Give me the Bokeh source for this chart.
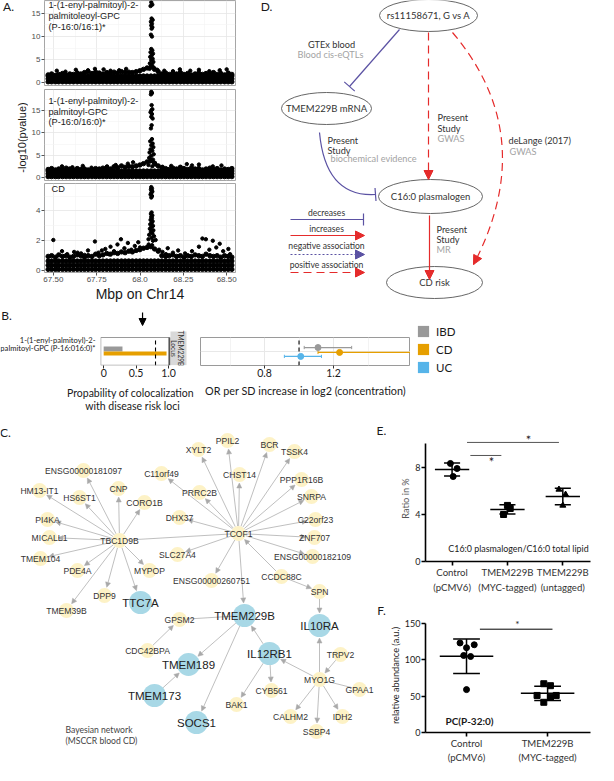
import math
import statistics
from bokeh.plotting import figure
from bokeh.layouts import column, row
from bokeh.models import (Label, Arrow, NormalHead, TeeHead, FixedTicker, Range1d, LinearAxis,
                          ColumnDataSource, Legend, LegendItem)
from bokeh.core.properties import value
from bokeh.embed import file_html
from bokeh.resources import INLINE

SANS = "Liberation Sans"
HUM = "Lato"
INK = "#1a1a1a"

# ===================== DATA =====================
# ---- A. regional association, chr14 ----
A_strip_lines = [["1-(1-enyl-palmitoyl)-2-", "palmitoleoyl-GPC", " (P-16:0/16:1)*"],
                 ["1-(1-enyl-palmitoyl)-2-", "palmitoyl-GPC", "(P-16:0/16:0)*"],
                 ["CD"]]
A_xticks = [67.50, 67.75, 68.00, 68.25, 68.50]
A_xtick_labels = ["67.50", "67.75", "68.0", "68.25", "68.50"]
A_xminor = [67.625, 67.875, 68.125, 68.375]
A_yticks = [[0, 5, 10, 15], [0, 5, 10, 15], [0, 2, 4]]
A_yminor = [[2.5, 7.5, 12.5, 17.5], [2.5, 7.5, 12.5, 17.5], [1, 3, 5]]
A_snp_x = [67.470, 67.490, 67.512, 67.531, 67.553, 67.574, 67.595, 67.616, 67.638, 67.659,
           67.680, 67.701, 67.723, 67.744, 67.765, 67.786, 67.808, 67.829, 67.850, 67.871,
           67.893, 67.914, 67.935, 67.956, 67.978, 67.999, 68.020, 68.041, 68.063, 68.084,
           68.105, 68.126, 68.148, 68.169, 68.190, 68.211, 68.233, 68.254, 68.275, 68.296,
           68.318, 68.339, 68.360, 68.381, 68.403, 68.424, 68.445, 68.466, 68.488, 68.509, 68.530]
A_band_rows = [[0.2, 0.85, 1.45], [0.2, 0.85, 1.45], [0.08, 0.36, 0.64]]
A_band_top = [
    [1.7, 1.9, 1.6, 1.8, 2.0, 1.7, 1.9, 1.8, 2.1, 1.9, 2.2, 2.4, 2.0, 2.3, 2.1, 1.9, 2.2, 2.0, 2.3, 2.1,
     2.4, 2.2, 2.3, 2.2, 2.4, 2.6, 2.9, 3.2, 3.4, 2.9, 2.4, 1.9, 2.1, 1.8, 2.0, 1.9, 2.2, 1.8, 2.0, 1.7,
     1.9, 2.1, 1.8, 2.0, 1.9, 2.2, 1.8, 2.0, 1.7, 2.1, 1.8],
    [1.8, 2.0, 1.7, 1.9, 1.8, 2.1, 1.9, 1.7, 2.0, 1.8, 1.9, 1.7, 1.8, 2.0, 1.9, 2.1, 2.2, 1.9, 2.4, 2.2,
     2.6, 2.3, 2.5, 2.4, 2.6, 2.8, 3.1, 3.5, 3.8, 3.2, 2.6, 2.2, 2.0, 1.8, 2.1, 1.9, 2.3, 2.0, 1.8, 2.1,
     1.9, 2.0, 1.7, 1.9, 2.1, 1.8, 2.0, 1.7, 1.9, 1.8, 2.0],
    [0.95, 1.00, 0.90, 1.05, 0.95, 1.00, 0.90, 0.95, 1.05, 1.00, 0.90, 1.00, 0.95, 1.10, 1.00, 1.05, 1.15,
     1.10, 1.20, 1.15, 1.25, 1.20, 1.30, 1.25, 1.35, 1.40, 1.50, 1.55, 1.60, 1.45, 1.30, 1.00, 0.95, 1.00,
     1.05, 0.95, 1.00, 0.90, 1.00, 0.95, 1.05, 1.00, 0.95, 1.10, 1.00, 0.95, 1.00, 0.90, 1.00, 0.95, 0.90]]
A_out_x = [
    [67.52, 67.57, 67.63, 67.70, 67.74, 67.79, 67.83, 67.88, 67.92, 68.10, 68.14, 68.19, 68.23, 68.29,
     68.34, 68.40, 68.46, 68.50],
    [67.55, 67.61, 67.67, 67.72, 67.81, 67.86, 67.93, 67.96, 68.09, 68.13, 68.18, 68.27, 68.30, 68.34,
     68.42, 68.47],
    [67.50, 67.55, 67.58, 67.62, 67.66, 67.68, 67.70, 67.74, 67.76, 67.80, 67.82, 67.83, 67.85, 67.87,
     67.89, 67.91, 67.93, 67.95, 67.97, 67.99, 68.00, 68.07, 68.09, 68.11, 68.13, 68.15, 68.16, 68.19,
     68.22, 68.26, 68.30, 68.34, 68.36, 68.38, 68.40, 68.42, 68.44, 68.46, 68.48, 68.51, 68.52, 67.64,
     67.78, 68.05]]
A_out_y = [
    [2.6, 2.4, 2.8, 2.7, 3.0, 2.9, 2.6, 2.7, 3.0, 2.8, 2.6, 2.5, 2.9, 2.6, 2.8, 2.5, 2.7, 2.9],
    [2.5, 2.3, 2.6, 2.2, 2.5, 2.8, 3.1, 3.4, 2.9, 2.4, 2.6, 3.0, 2.7, 2.9, 2.5, 2.7],
    [2.05, 1.30, 1.10, 1.25, 1.15, 1.05, 1.35, 1.95, 1.20, 1.45, 1.10, 1.60, 1.30, 1.75, 2.10, 1.50,
     1.85, 1.40, 1.65, 1.90, 1.55, 1.70, 2.05, 1.40, 1.25, 1.10, 1.50, 1.20, 1.35, 1.15, 1.30, 1.60,
     2.15, 2.10, 1.40, 2.00, 1.55, 1.80, 1.30, 1.45, 1.10, 1.20, 1.35, 1.75]]
A_peak_x = [
    [68.065, 68.071, 68.061, 68.067, 68.073, 68.063, 68.069, 68.065, 68.071, 68.067, 68.063, 68.069,
     68.065, 68.071, 68.061, 68.075, 68.067, 68.059, 68.073, 68.065, 68.077, 68.057, 68.069, 68.063,
     68.079, 68.055],
    [68.065, 68.069, 68.063, 68.067, 68.071, 68.065, 68.061, 68.069, 68.065, 68.073, 68.067, 68.063,
     68.069, 68.059, 68.073, 68.065, 68.077, 68.061, 68.071, 68.055, 68.079, 68.065, 68.053, 68.075,
     68.059, 68.083, 68.049, 68.071],
    [68.065, 68.069, 68.063, 68.067, 68.071, 68.065, 68.061, 68.069, 68.065, 68.067, 68.063, 68.071,
     68.065, 68.069, 68.061, 68.073, 68.067, 68.059, 68.075, 68.065, 68.057, 68.077, 68.063, 68.071,
     68.053, 68.081, 68.067, 68.049, 68.075]]
A_peak_y = [
    [17.4, 16.9, 16.6, 13.9, 13.6, 13.2, 12.8, 12.4, 12.0, 11.7, 10.4, 10.0, 7.3, 7.0, 6.6, 6.3, 5.9,
     5.6, 5.2, 4.9, 4.5, 4.2, 3.9, 3.6, 3.3, 3.0],
    [19.2, 18.9, 18.6, 16.2, 15.3, 15.0, 14.6, 14.2, 13.6, 13.2, 11.7, 11.0, 8.6, 8.1, 7.6, 7.2, 6.8,
     6.3, 6.0, 5.6, 5.2, 4.8, 4.4, 4.0, 3.6, 3.2, 2.8, 2.5],
    [5.6, 5.5, 5.45, 5.35, 5.3, 5.2, 5.1, 5.0, 4.9, 3.9, 3.8, 3.7, 3.6, 3.5, 3.4, 3.3, 3.2, 3.1, 3.0,
     2.9, 2.8, 2.7, 2.6, 2.5, 2.4, 2.3, 2.2, 2.1, 2.0]]

# ---- B. colocalization and MR ----
B_series = ["IBD", "CD", "UC"]
B_colors = ["#999999", "#E69F00", "#56B4E9"]
B_trait = ["1-(1-enyl-palmitoyl)-2-", "palmitoyl-GPC (P-16:016:0)*"]
B_locus = ["TMEM229B", "Locus"]
B_coloc_series = ["IBD", "CD"]
B_coloc_prob = [0.29, 0.97]
B_coloc_pos = [1.11, 0.91]
B_coloc_thr = 0.8
B_or = [1.11, 1.235, 1.01]
B_or_lo = [1.03, 1.11, 0.915]
B_or_hi = [1.305, 1.645, 1.13]
B_or_pos = [1.17, 0.96, 0.79]
B_or_null = 1.0

# ---- C. Bayesian network ----
C_names = ["XYLT2", "PPIL2", "BCR", "TSSK4", "ENSG00000181097", "C11orf49", "CHST14", "PPP1R16B",
           "HM13-IT1", "CNP", "HS6ST1", "CORO1B", "PRRC2B", "SNRPA", "PI4KA", "DHX37", "C22orf23",
           "MICALL1", "TBC1D9B", "TCOF1", "ZNF707", "TMEM104", "SLC27A4", "ENSG00000182109", "PDE4A",
           "MYPOP", "ENSG00000260751", "CCDC88C", "DPP9", "SPN", "TTC7A", "TMEM39B", "GPSM2", "TMEM229B",
           "IL10RA", "CDC42BPA", "IL12RB1", "TRPV2", "TMEM189", "MYO1G", "GPAA1", "CYB561", "TMEM173",
           "BAK1", "CALHM2", "IDH2", "SOCS1", "SSBP4"]
C_blue = ["TTC7A", "TMEM229B", "IL10RA", "IL12RB1", "TMEM189", "TMEM173", "SOCS1"]
C_arrows = [("TBC1D9B", "HM13-IT1"), ("TBC1D9B", "ENSG00000181097"), ("TBC1D9B", "HS6ST1"),
            ("TBC1D9B", "CNP"), ("TBC1D9B", "CORO1B"), ("TBC1D9B", "PI4KA"), ("TBC1D9B", "MICALL1"),
            ("TBC1D9B", "TMEM104"), ("TBC1D9B", "PDE4A"), ("TBC1D9B", "TMEM39B"), ("TBC1D9B", "DPP9"),
            ("TBC1D9B", "TTC7A"), ("TBC1D9B", "MYPOP"),
            ("TCOF1", "XYLT2"), ("TCOF1", "PPIL2"), ("TCOF1", "BCR"), ("TCOF1", "TSSK4"),
            ("TCOF1", "C11orf49"), ("TCOF1", "CHST14"), ("TCOF1", "PPP1R16B"), ("TCOF1", "PRRC2B"),
            ("TCOF1", "SNRPA"), ("TCOF1", "DHX37"), ("TCOF1", "C22orf23"), ("TCOF1", "ZNF707"),
            ("TCOF1", "ENSG00000182109"), ("TCOF1", "SLC27A4"), ("TCOF1", "ENSG00000260751"),
            ("TCOF1", "TMEM229B"), ("CCDC88C", "TCOF1"), ("CCDC88C", "SPN"), ("SPN", "IL10RA"),
            ("CDC42BPA", "GPSM2"), ("TMEM229B", "TMEM189"), ("TMEM229B", "SOCS1"),
            ("IL12RB1", "TMEM229B"), ("TMEM173", "TMEM189"), ("IL12RB1", "CYB561"), ("IL12RB1", "BAK1"),
            ("MYO1G", "IL12RB1"), ("MYO1G", "IL10RA"), ("TRPV2", "MYO1G"), ("MYO1G", "CALHM2"),
            ("MYO1G", "SSBP4"), ("MYO1G", "IDH2")]
C_links = [("TCOF1", "TBC1D9B"), ("GPSM2", "TMEM229B"), ("MYO1G", "GPAA1")]

# ---- D. causal diagram ----
D_nodes = ["rs11158671, G vs A", "TMEM229B mRNA", "C16:0 plasmalogen", "CD risk"]
D_legend = ["decreases", "increases", "negative association", "positive association"]

# ---- E. C16:0 plasmalogen ratio ----
E_line1 = ["Control", "TMEM229B", "TMEM229B"]
E_line2 = ["(pCMV6)", "(MYC-tagged)", "(untagged)"]
E_values = [[8.34, 7.91, 7.23], [4.77, 4.51, 4.00], [6.13, 5.70, 4.77]]
E_jitter = [[-0.03, 0.09, 0.02], [0.0, 0.05, -0.07], [-0.07, 0.05, 0.0]]
E_markers = ["circle", "square", "triangle"]
E_yticks = [0, 4, 8]

# ---- F. PC(P-32:0) abundance ----
F_line1 = ["Control", "TMEM229B"]
F_line2 = ["(pCMV6)", "(MYC-tagged)"]
F_values = [[123.0, 116.5, 120.5, 105.8, 104.4, 58.9], [67.0, 64.3, 50.9, 50.9, 48.2, 41.5]]
F_jitter = [[-0.08, 0.0, 0.095, -0.035, 0.05, 0.0], [-0.047, 0.035, -0.13, 0.106, 0.035, -0.047]]
F_markers = ["circle", "square"]
F_yticks = [0, 50, 100, 150]


# ===================== HELPERS =====================
def base_fig(**kw):
    p = figure(output_backend="svg", toolbar_location=None, **kw)
    p.background_fill_color = "white"
    p.border_fill_color = "white"
    return p


def lab(p, fr, X, Y, text, size="9px", color=INK, font=HUM, align="left",
        baseline="middle", angle=0.0, style="normal"):
    # label inside the plot frame, given in page pixels
    fl, ft, frr, fb = fr
    p.add_layout(Label(x=X - fl, y=fb - Y, x_units="screen", y_units="screen", text=text,
                       text_font=font, text_font_size=size, text_color=color, text_align=align,
                       text_baseline=baseline, angle=angle, text_font_style=style))


def textfig(x0, x1, y0, y1):
    p = base_fig(width=x1 - x0, height=y1 - y0, x_range=Range1d(x0, x1), y_range=Range1d(y1, y0),
                 x_axis_location=None, y_axis_location=None, min_border=0)
    p.grid.visible = False
    p.outline_line_color = None
    return p


def txt(p, X, Y, text, size="9px", color=INK, font=HUM, align="left", angle=0.0, style="normal"):
    p.text([X], [Y], text=[text], text_font=value(font), text_font_size=size, text_color=color,
           text_align=align, text_baseline="middle", angle=angle, text_font_style=style)


# ===================== PANEL A =====================
Atext = textfig(8, 36, 8, 312)
txt(Atext, 16, 14, "A.", size="12px", align="center")
txt(Atext, 29, 145, "-log10(pvalue)", size="11px", font=SANS, align="center", angle=math.pi / 2)

A_frames = [(49, 8, 243, 93), (49, 97, 243, 188), (49, 191, 243, 282)]
A_heights = [88, 95, 121]
A_tb = [(0, 3), (1, 3), (0, 30)]
A_yr = [(-0.6, 17.8), (-0.67, 19.7), (-0.13, 5.84)]
A_strip_y = [[12, 23, 34], [108, 119, 129.5], [198]]
A_strip_x = [[53, 53, 53], [53, 53, 53], [56]]
A_figs = []
for k in range(3):
    p = base_fig(width=210, height=A_heights[k], x_range=Range1d(67.449, 68.551),
                 y_range=Range1d(*A_yr[k]), x_axis_location=("below" if k == 2 else None),
                 min_border_left=13, min_border_right=3, min_border_top=A_tb[k][0],
                 min_border_bottom=A_tb[k][1])
    p.outline_line_color = "#a6a6a6"
    p.outline_line_width = 1
    p.xgrid.ticker = FixedTicker(ticks=A_xticks, minor_ticks=A_xminor)
    p.ygrid.ticker = FixedTicker(ticks=A_yticks[k], minor_ticks=A_yminor[k])
    for g in (p.xgrid, p.ygrid):
        g.grid_line_color = "#e6e6e6"
        g.grid_line_width = 0.8
        g.minor_grid_line_color = "#f3f3f3"
        g.minor_grid_line_width = 0.6
    p.yaxis.ticker = FixedTicker(ticks=A_yticks[k])
    p.yaxis.axis_line_color = None
    p.yaxis.major_tick_out = 3
    p.yaxis.major_tick_in = 0
    p.yaxis.major_tick_line_color = "#555555"
    p.yaxis.minor_tick_line_color = None
    p.yaxis.major_label_text_font = SANS
    p.yaxis.major_label_text_font_size = "8px"
    p.yaxis.major_label_text_color = "#4d4d4d"
    p.yaxis.major_label_standoff = 1
    if k == 2:
        p.xaxis.ticker = FixedTicker(ticks=A_xticks)
        p.xaxis.major_label_overrides = dict(zip(A_xticks, A_xtick_labels))
        p.xaxis.axis_line_color = None
        p.xaxis.major_tick_out = 3
        p.xaxis.major_tick_in = 0
        p.xaxis.major_tick_line_color = "#555555"
        p.xaxis.minor_tick_line_color = None
        p.xaxis.major_label_text_font = SANS
        p.xaxis.major_label_text_font_size = "8px"
        p.xaxis.major_label_text_color = "#4d4d4d"
        p.xaxis.major_label_standoff = 1
        p.xaxis.axis_label = "Mbp on Chr14"
        p.xaxis.axis_label_text_font = SANS
        p.xaxis.axis_label_text_font_size = "14px"
        p.xaxis.axis_label_text_font_style = "normal"
        p.xaxis.axis_label_text_color = INK
        p.xaxis.axis_label_standoff = 1
    rows = A_band_rows[k]
    bx = [x for r in rows for x in A_snp_x] + A_snp_x
    by = [r for r in rows for _ in A_snp_x] + A_band_top[k]
    p.scatter(bx, by, size=4.4, color="black")
    p.scatter(A_out_x[k], A_out_y[k], size=3.4, color="black")
    p.scatter(A_peak_x[k], A_peak_y[k], size=3.4, color="black")
    for t, xx, yy in zip(A_strip_lines[k], A_strip_x[k], A_strip_y[k]):
        lab(p, A_frames[k], xx, yy, t, size="9.2px", font=SANS)
    A_figs.append(p)

# ===================== PANEL D =====================
D = textfig(246, 606, 8, 312)
BLUE = "#5b52a3"
RED = "#e52b2b"
GRAY = "#a3a3a3"
D_x = [436, 334, 438, 442]
D_y = [23, 116, 204, 290]
D_w = [98, 90, 104, 96]
D_h = [32, 32, 34, 32]


def d_arrow(x0, y0, x1, y1, color, dash="solid", head="normal", hsize=8, body=True, lw=1.2):
    if head == "tee":
        h = TeeHead(size=hsize, line_color=color, line_width=lw)
    else:
        h = NormalHead(size=hsize, fill_color=color, line_color=color, line_width=1)
    D.add_layout(Arrow(x_start=x0, y_start=y0, x_end=x1, y_end=y1, end=h, line_color=color,
                       line_width=lw, line_dash=dash, line_alpha=(1.0 if body else 0.0)))


d_arrow(407, 37, 357, 94, BLUE, head="tee", hsize=14)
d_arrow(436, 40, 436, 187, RED, dash="8 5", hsize=9)
D.quadratic(x0=[460], y0=[40], x1=[481], y1=[272], cx=[548], cy=[144], line_color=RED,
            line_width=1.2, line_dash="8 5")
d_arrow(481 + 0.464 * 4, 272 - 0.886 * 4, 481, 272, RED, hsize=9, body=False)
D.quadratic(x0=[327], y0=[140], x1=[383], y1=[202], cx=[333], cy=[205], line_color=BLUE,
            line_width=1.2)
d_arrow(379, 202.3, 383, 202, BLUE, head="tee", hsize=13, body=False)
d_arrow(437, 223, 437, 287, RED, hsize=9)
d_arrow(298, 227, 371, 227, BLUE, head="tee", hsize=12)
d_arrow(298, 243, 372, 243, RED, hsize=9)
d_arrow(298, 262, 372, 262, BLUE, dash="2 2", hsize=9)
d_arrow(298, 280, 372, 280, RED, dash="8 5", hsize=9)
D.ellipse(D_x, D_y, width=D_w, height=D_h, fill_color="white", line_color="#555555", line_width=0.9)
D.text(D_x, D_y, text=D_nodes, text_align="center", text_baseline="middle",
       text_font=value(HUM), text_font_size="9.5px", text_color="#333333")
txt(D, 274, 14, "D.", size="12px", align="center")
for t, xx, yy, c, al in [("GTEx blood", 339, 52, "#333333", "center"),
                         ("Blood cis-eQTLs", 338, 62, GRAY, "center"),
                         ("Present", 445, 125, "#333333", "left"), ("Study", 445, 136, "#333333", "left"),
                         ("GWAS", 445, 146, GRAY, "left"),
                         ("deLange (2017)", 516, 148, "#333333", "left"), ("GWAS", 517, 159, GRAY, "left"),
                         ("Present", 335, 148, "#333333", "left"), ("Study", 335, 158, "#333333", "left"),
                         ("biochemical evidence", 338, 166, GRAY, "left"),
                         ("Present", 444, 237, "#333333", "left"), ("Study", 444, 247, "#333333", "left"),
                         ("MR", 444, 257, GRAY, "left")]:
    txt(D, xx, yy, t, size="9.2px", color=c, align=al)
for t, yy in zip(D_legend, [220, 236, 253, 272]):
    txt(D, 334, yy, t, size="8.6px", color="#333333", align="center")

# ===================== PANEL B =====================
Btext = textfig(8, 104, 312, 388)
txt(Btext, 14, 323, "B.", size="12px", align="center")
txt(Btext, 103, 355, B_trait[0], size="7.6px", align="right")
txt(Btext, 103, 365, B_trait[1], size="7.6px", align="right")

# left plot: frame x 108..196 (x=0 at 111.2, 64.8 px/unit), y 315..373 (data box 345..373 = 0.4..1.6)
Blp = base_fig(width=100, height=76, x_range=Range1d(-0.049, 1.309), y_range=Range1d(0.4, 2.886),
               y_axis_location=None, min_border_left=4, min_border_right=8, min_border_top=3,
               min_border_bottom=15)
Blp.outline_line_color = None
Blp.grid.visible = False
Blp.hbar(y=B_coloc_pos, left=0, right=B_coloc_prob, height=[0.21, 0.17],
         fill_color=[B_colors[B_series.index(s)] for s in B_coloc_series], line_color=None)
Blp.segment(x0=[B_coloc_thr], y0=[0.4], x1=[B_coloc_thr], y1=[1.6], line_color="black",
            line_dash="4 3", line_width=1.1)
Blp.quad(left=[-0.045], right=[1.015], bottom=[0.41], top=[1.6], fill_color=None,
         line_color="#9a9a9a", line_width=1)
Blp.segment(x0=[1.015], y0=[0.41], x1=[1.015], y1=[1.6], line_color="#555555", line_width=2)
Blp.quad(left=[1.031], right=[1.278], bottom=[0.41], top=[1.857], fill_color="#d9d9d9",
         line_color=None)
Blp.text([1.19, 1.09], [1.129, 1.129], text=B_locus, text_align="center", text_baseline="middle",
         angle=-math.pi / 2, text_font=value(HUM), text_font_size="6.6px", text_color="#333333")
Blp.add_layout(Arrow(x_start=0.6, y_start=2.67, x_end=0.6, y_end=2.114, line_color="black",
                     line_width=1.2, end=NormalHead(size=7, fill_color="black", line_color="black")))
Blp.xaxis.ticker = FixedTicker(ticks=[0, 0.5, 1.0])
Blp.xaxis.major_label_overrides = {0: "0", 0.5: "0.5", 1: "1.0"}
Blp.xaxis.axis_line_color = None
Blp.xaxis.major_tick_out = 3
Blp.xaxis.major_tick_in = 0
Blp.xaxis.major_tick_line_color = "#333333"
Blp.xaxis.minor_tick_line_color = None
Blp.xaxis.major_label_text_font = HUM
Blp.xaxis.major_label_text_font_size = "10.5px"
Blp.xaxis.major_label_text_color = INK
Blp.xaxis.major_label_standoff = 0

Btext2 = textfig(8, 204, 388, 425)
txt(Btext2, 138, 400, "Propability of colocalization", size="10.5px", align="center")
txt(Btext2, 140, 413, "with disease risk loci", size="10.5px", align="center")

# right plot: frame x 208..418, y 345..373
Br = base_fig(width=214, height=113, x_range=Range1d(0.429, 1.646), y_range=Range1d(0.4, 1.6),
              y_axis_location=None, min_border_left=4, min_border_right=0, min_border_top=33,
              min_border_bottom=52)
Br.outline_line_color = "#9a9a9a"
Br.xaxis.ticker = FixedTicker(ticks=[0.8, 1.2])
Br.xgrid.ticker = FixedTicker(ticks=[0.8, 1.2], minor_ticks=[0.6, 1.0, 1.4])
Br.ygrid.ticker = FixedTicker(ticks=[1.0])
for g in (Br.xgrid, Br.ygrid):
    g.grid_line_color = "#e8e8e8"
    g.minor_grid_line_color = "#f3f3f3"
Br.xaxis.axis_line_color = None
Br.xaxis.major_tick_out = 3
Br.xaxis.major_tick_in = 0
Br.xaxis.major_tick_line_color = "#333333"
Br.xaxis.minor_tick_line_color = None
Br.xaxis.major_label_text_font = HUM
Br.xaxis.major_label_text_font_size = "10.5px"
Br.xaxis.major_label_text_color = INK
Br.xaxis.major_label_standoff = 0
Br.xaxis.axis_label = "OR per SD increase in log2 (concentration)"
Br.xaxis.axis_label_text_font = HUM
Br.xaxis.axis_label_text_font_size = "10.8px"
Br.xaxis.axis_label_text_font_style = "normal"
Br.xaxis.axis_label_text_color = INK
Br.xaxis.axis_label_standoff = 4
Br.segment(x0=[B_or_null], y0=[0.4], x1=[B_or_null], y1=[1.6], line_color="black", line_dash="4 3",
           line_width=1.1)
Br.segment(x0=B_or_lo, y0=B_or_pos, x1=B_or_hi, y1=B_or_pos, line_color=B_colors, line_width=1.3)
Br.segment(x0=B_or_lo, y0=[v - 0.07 for v in B_or_pos], x1=B_or_lo, y1=[v + 0.07 for v in B_or_pos],
           line_color=B_colors, line_width=1)
Br.segment(x0=B_or_hi, y0=[v - 0.07 for v in B_or_pos], x1=B_or_hi, y1=[v + 0.07 for v in B_or_pos],
           line_color=B_colors, line_width=1)
Br.scatter(B_or, B_or_pos, size=6, color=B_colors)

# legend for B (its own canvas to the right of the forest plot)
Bpad = textfig(418, 606, 312, 326)
Bleg = textfig(418, 606, 326, 425)
items = []
for s, c in zip(B_series, B_colors):
    r = Bleg.quad(left=[math.nan], right=[math.nan], top=[math.nan], bottom=[math.nan],
                  fill_color=c, line_color=None)
    items.append(LegendItem(label=s, renderers=[r]))
leg = Legend(items=items, location="top_left", glyph_width=14, glyph_height=14, label_height=14,
             spacing=4, label_standoff=6, padding=0, margin=6, border_line_color=None,
             background_fill_alpha=0, label_text_font=HUM, label_text_font_size="11.5px",
             label_text_color=INK)
Bleg.add_layout(leg)

# ===================== PANEL C =====================
C = textfig(8, 384, 425, 773)
C_x = [206, 235, 277, 302, 91, 169, 247, 309,
       47, 126, 87, 152, 207, 319, 55, 187, 323,
       57, 127, 246, 322, 48, 185, 320, 85,
       157, 219, 289, 112, 327, 148, 74, 187, 252,
       327, 155, 277, 348, 196, 327, 367, 279, 162,
       244, 298, 350, 204, 324]
C_y = [457, 448, 452, 459, 478, 481, 482, 487,
       498, 496, 505, 510, 500, 504, 527, 525, 527,
       545, 548, 541, 545, 566, 562, 564, 578,
       578, 588, 584, 603, 599, 610, 618, 627, 623,
       633, 658, 661, 662, 672, 687, 697, 698, 703,
       712, 724, 724, 730, 739]
idx = {n: i for i, n in enumerate(C_names)}


def rad(n):
    return 11.5 if n in C_blue else 7.5


def seg(s, t, gap):
    x0, y0 = C_x[idx[s]], C_y[idx[s]]
    x1, y1 = C_x[idx[t]], C_y[idx[t]]
    d = math.hypot(x1 - x0, y1 - y0)
    ux, uy = (x1 - x0) / d, (y1 - y0) / d
    return x0 + ux * rad(s), y0 + uy * rad(s), x1 - ux * (rad(t) + gap), y1 - uy * (rad(t) + gap)


aw = [seg(s, t, 1) for s, t in C_arrows]
lw_ = [seg(s, t, 0) for s, t in C_links]
C.segment(x0=[a[0] for a in lw_], y0=[a[1] for a in lw_], x1=[a[2] for a in lw_],
          y1=[a[3] for a in lw_], line_color="#b8b8b8", line_width=0.9)
src = ColumnDataSource(dict(xs=[a[0] for a in aw], ys=[a[1] for a in aw],
                            xe=[a[2] for a in aw], ye=[a[3] for a in aw]))
C.add_layout(Arrow(source=src, x_start="xs", y_start="ys", x_end="xe", y_end="ye",
                   line_color="#b8b8b8", line_width=0.9, level="underlay",
                   end=NormalHead(size=5, fill_color="#a9a9a9", line_color="#a9a9a9", line_width=0.5)))
yel = [n for n in C_names if n not in C_blue]
blu = [n for n in C_names if n in C_blue]
C.circle([C_x[idx[n]] for n in yel], [C_y[idx[n]] for n in yel], radius=7.5,
         fill_color="#fdf2c6", line_color=None)
C.circle([C_x[idx[n]] for n in blu], [C_y[idx[n]] for n in blu], radius=11.5,
         fill_color="#a8d8e6", line_color=None)
C.text([C_x[idx[n]] for n in yel], [C_y[idx[n]] for n in yel], text=yel, text_align="center",
       text_baseline="middle", text_font=value(SANS), text_font_size="8.6px", text_color="#333333")
C.text([C_x[idx[n]] for n in blu], [C_y[idx[n]] for n in blu], text=blu, text_align="center",
       text_baseline="middle", text_font=value(SANS), text_font_size="11.5px", text_color="#222222")
txt(C, 13, 440, "C.", size="12px", align="center")
txt(C, 73, 737, "Bayesian network", size="8.6px", color="#444444")
txt(C, 73, 748, "(MSCCR blood CD)", size="8.6px", color="#444444")

# ===================== PANELS E, F =====================
EFtext = textfig(384, 394, 425, 773)
txt(EFtext, 389, 438, "E.", size="12px", align="center")
txt(EFtext, 389, 618, "F.", size="12px", align="center")


def prism(p, yticks, xticks, ybounds, line1, line2, ylabel, ycolor, s1, s2):
    p.grid.visible = False
    p.outline_line_color = None
    p.yaxis.ticker = FixedTicker(ticks=yticks)
    p.yaxis.bounds = ybounds
    p.xaxis.ticker = FixedTicker(ticks=xticks)
    p.xaxis.major_label_overrides = dict(zip(xticks, line1))
    ax2 = LinearAxis(ticker=FixedTicker(ticks=xticks), major_label_overrides=dict(zip(xticks, line2)))
    p.add_layout(ax2, "below")
    for ax in (p.xaxis[0], p.yaxis[0], ax2):
        ax.axis_line_width = 1.6
        ax.axis_line_color = "black"
        ax.major_tick_line_width = 1.6
        ax.major_tick_line_color = "black"
        ax.major_tick_out = 4
        ax.major_tick_in = 0
        ax.minor_tick_line_color = None
        ax.major_label_text_font = HUM
        ax.major_label_text_font_size = "9px"
        ax.major_label_text_color = INK
        ax.major_label_standoff = 1
    for ax in (p.xaxis[0], ax2):
        ax.major_label_text_font_size = "9.6px"
        ax.major_label_text_color = "#333333"
    p.xaxis[0].major_label_standoff = s1
    ax2.axis_line_color = None
    ax2.major_tick_line_color = None
    ax2.major_tick_out = 0
    ax2.major_label_standoff = s2
    p.yaxis.axis_label = ylabel
    p.yaxis.axis_label_text_font = HUM
    p.yaxis.axis_label_text_font_size = "9.2px"
    p.yaxis.axis_label_text_font_style = "normal"
    p.yaxis.axis_label_text_color = ycolor
    p.yaxis.axis_label_standoff = 1


def scatter_sd(p, values, jitter, markers, half_mean, half_cap, msize):
    for i, (vals, jit, mk) in enumerate(zip(values, jitter, markers)):
        c = i + 1
        m = statistics.mean(vals)
        sd = statistics.stdev(vals)
        p.segment(x0=[c - half_mean, c - half_cap, c - half_cap, c],
                  y0=[m, m + sd, m - sd, m - sd],
                  x1=[c + half_mean, c + half_cap, c + half_cap, c],
                  y1=[m, m + sd, m - sd, m + sd], line_color="black", line_width=1.5)
        p.scatter([c + j for j in jit], vals, marker=mk, size=msize, color="black")


E_fr = (424, 443, 598, 569)
E = base_fig(width=212, height=180, x_range=Range1d(0.52, 3.5), y_range=Range1d(0, 10.72),
             min_border_left=30, min_border_right=8, min_border_top=18, min_border_bottom=36)
prism(E, E_yticks, [1, 2, 3], (0, 10), E_line1, E_line2, "Ratio in %", "#555555", 1, 1)
scatter_sd(E, E_values, E_jitter, E_markers, 0.31, 0.145, 6)
E_sig_x0 = [1.27, 1.33]
E_sig_x1 = [2.93, 1.89]
E_sig_y = [10.13, 9.02]
E.segment(x0=E_sig_x0, y0=E_sig_y, x1=E_sig_x1, y1=E_sig_y, line_color="#555555", line_width=1)
lab(E, E_fr, 527, 447, "*", size="13px", align="center")
lab(E, E_fr, 490, 469, "*", size="13px", align="center")
lab(E, E_fr, 517, 556, "C16:0 plasmalogen/C16:0 total lipid", size="8.9px", align="center")

F_fr = (425, 626, 598, 743)
F = base_fig(width=212, height=168, x_range=Range1d(0.494, 2.529), y_range=Range1d(0, 156.6),
             min_border_left=31, min_border_right=8, min_border_top=21, min_border_bottom=30)
prism(F, F_yticks, [1, 2], (0, 150), F_line1, F_line2, "relative abundance (a.u.)", INK, 1, 0)
scatter_sd(F, F_values, F_jitter, F_markers, 0.33, 0.165, 6)
F.segment(x0=[1.165], y0=[141.9], x1=[2.06], y1=[141.9], line_color="black", line_width=1)
lab(F, F_fr, 517, 634, "*", size="10px", align="center")
lab(F, F_fr, 445, 731, "PC(P-32:0)", size="10px", style="bold")

# ===================== LAYOUT =====================
row1 = row(Atext, column(*A_figs), D)
row2 = row(column(row(Btext, Blp), Btext2), Br, column(Bpad, Bleg))
row3 = row(C, EFtext, column(E, F))
page = column(row1, row2, row3)
open("out.html", "w").write(file_html(page, INLINE, "figure"))
